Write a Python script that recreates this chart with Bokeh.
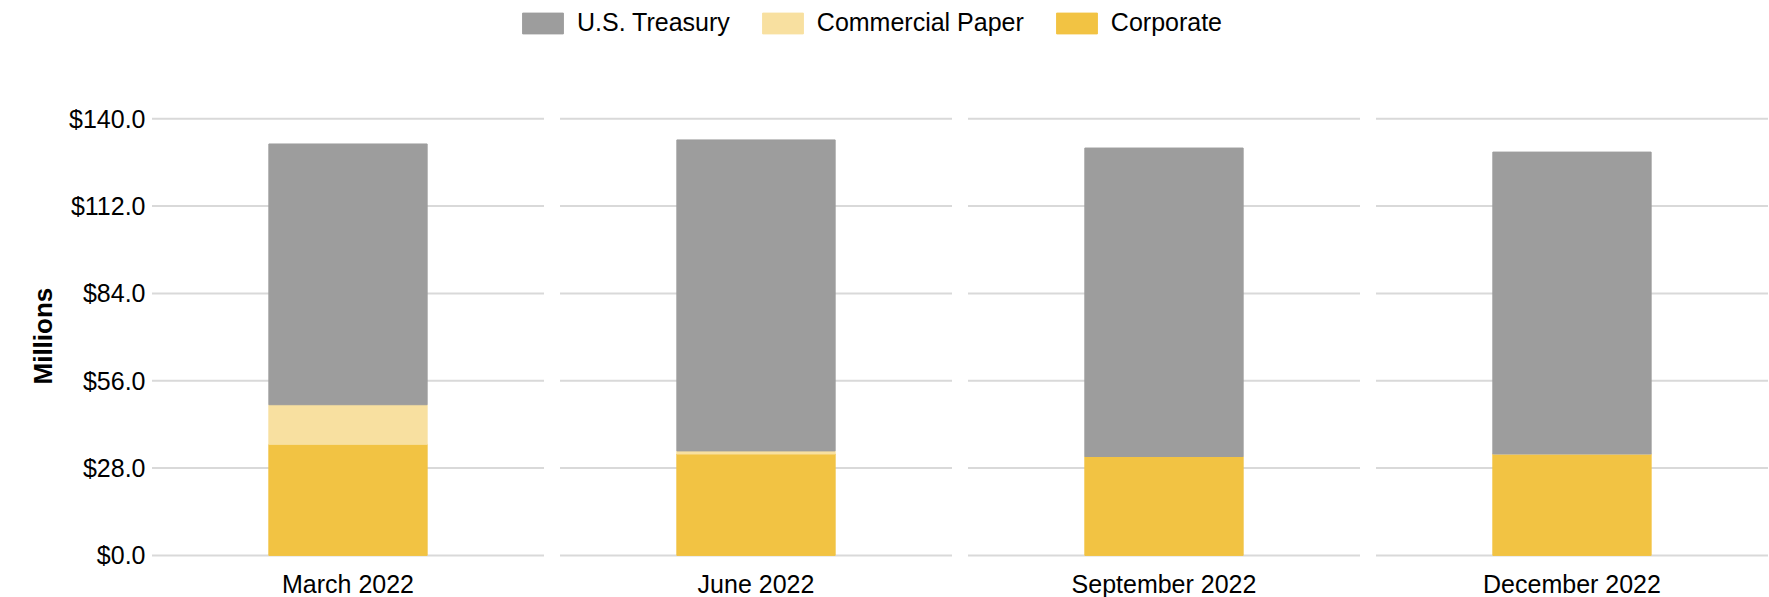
from bokeh.plotting import figure
from bokeh.models import (Range1d, FixedTicker, NumeralTickFormatter, Legend,
                          LegendItem, ColumnDataSource, Title)
from bokeh.embed import file_html
from bokeh.resources import INLINE

# ---- data (millions of dollars) ----
categories = ["March 2022", "June 2022", "September 2022", "December 2022"]
corporate = [35.6, 32.5, 31.7, 32.5]
commercial_paper = [12.7, 1.0, 0.0, 0.0]
us_treasury = [83.6, 99.7, 98.9, 96.8]
y_ticks = [0, 28, 56, 84, 112, 140]

series_names = ["Corporate", "Commercial Paper", "U.S. Treasury"]
series_colors = ["#f2c343", "#f8e0a0", "#9d9d9d"]

FONT = "Liberation Sans"

x = list(range(len(categories)))
source = ColumnDataSource(dict(x=x, **{
    "Corporate": corporate,
    "Commercial Paper": commercial_paper,
    "U.S. Treasury": us_treasury,
}))

p = figure(frame_width=1619, frame_height=558,
           x_range=Range1d(-0.48407, 3.4841), y_range=Range1d(-1, 177.9),
           output_backend="svg", toolbar_location=None,
           min_border_left=150, min_border_top=0,
           min_border_right=0, min_border_bottom=0)
p.outline_line_color = None
p.xgrid.visible = False
p.ygrid.visible = False
p.background_fill_color = "white"
p.border_fill_color = "white"

# broken gridlines: one segment per category per tick
gx0, gx1, gy = [], [], []
for t in y_ticks:
    for i in x:
        gx0.append(i - 0.4804)
        gx1.append(i + 0.4804)
        gy.append(t)
p.segment(x0=gx0, y0=gy, x1=gx1, y1=gy, line_color="#d9d9d9", line_width=2)

rs = p.vbar_stack(series_names, x="x", width=0.388, color=series_colors,
                  source=source)

legend = Legend(items=[
    LegendItem(label="U.S. Treasury", renderers=[rs[2]]),
    LegendItem(label="Commercial Paper", renderers=[rs[1]]),
    LegendItem(label="Corporate", renderers=[rs[0]]),
], location=(367, 521), orientation="horizontal",
    glyph_width=51, glyph_height=26, label_standoff=9, spacing=27,
    padding=0, margin=0, border_line_color=None, background_fill_alpha=0,
    label_text_font=FONT, label_text_font_size="25px",
    label_text_color="#000000")
p.add_layout(legend)

yax = p.yaxis[0]
yax.ticker = FixedTicker(ticks=y_ticks)
yax.formatter = NumeralTickFormatter(format="$0.0")
yax.axis_line_color = None
yax.major_tick_line_color = None
yax.minor_tick_line_color = None
yax.major_tick_out = 0
yax.major_tick_in = 0
yax.major_label_standoff = 5
yax.major_label_text_font = FONT
yax.major_label_text_font_size = "25px"
yax.major_label_text_color = "#000000"

# y-axis title, centred on the $0-$140 span
ytitle = Title(text="Millions", align="left", offset=174, standoff=18,
               vertical_align="bottom", text_font=FONT, text_font_size="26px",
               text_font_style="bold", text_color="#000000")
p.add_layout(ytitle, "left")

xax = p.xaxis[0]
xax.ticker = FixedTicker(ticks=x)
xax.major_label_overrides = {i: c for i, c in zip(x, categories)}
xax.axis_line_color = None
xax.major_tick_line_color = None
xax.minor_tick_line_color = None
xax.major_tick_out = 0
xax.major_tick_in = 0
xax.major_label_standoff = 11
xax.major_label_text_font = FONT
xax.major_label_text_font_size = "25px"
xax.major_label_text_color = "#000000"

open("out.html", "w").write(file_html(p, INLINE))
